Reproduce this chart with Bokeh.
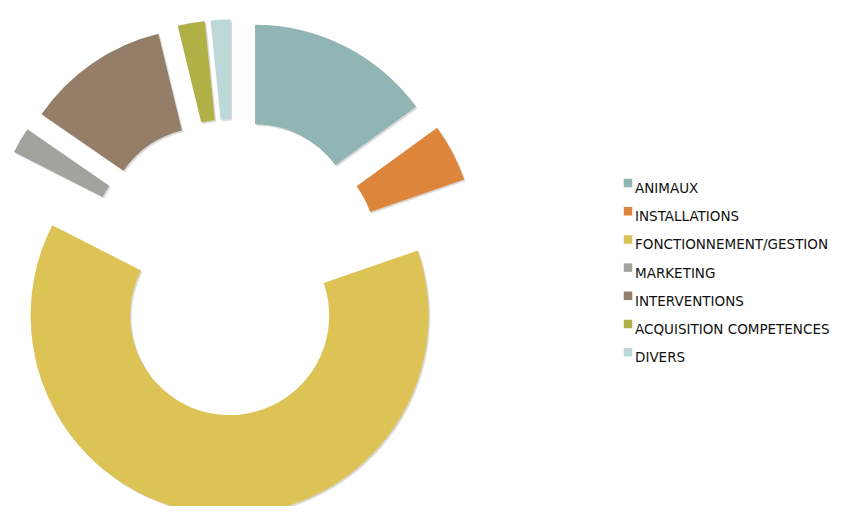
import numpy as np
from bokeh.plotting import figure
from bokeh.models import Range1d, ColumnDataSource
from bokeh.core.properties import value
from bokeh.embed import file_html
from bokeh.resources import INLINE

categories = ["ANIMAUX", "INSTALLATIONS", "FONCTIONNEMENT/GESTION", "MARKETING",
              "INTERVENTIONS", "ACQUISITION COMPETENCES", "DIVERS"]
values = [15.0, 4.7, 62.8, 2.1, 11.6, 2.2, 1.6]
colors = ["#91B4B4", "#DE853C", "#DDC356", "#A2A39D", "#947E67", "#B0B046", "#BCD8D9"]

W, H = 835, 506
# data units = screen pixels (y measured upward from the window bottom)
cx, cy = 232.5, 514 - 266.6
outer_r, inner_r = 199, 99.5
explode = 48.6

vals = np.array(values, dtype=float)
frac = vals / vals.sum()
ends = np.cumsum(frac) * 2 * np.pi
starts = ends - frac * 2 * np.pi
mids = (starts + ends) / 2
# clockwise from 12 o'clock
xs = cx + explode * np.sin(mids)
ys = cy + explode * np.cos(mids)
start_ang = np.pi / 2 - starts
end_ang = np.pi / 2 - ends

src = ColumnDataSource(dict(x=xs, y=ys, sx=xs + 1.5, sy=ys - 1.5,
                            start=start_ang, end=end_ang, color=colors))

p = figure(width=W, height=H, output_backend="svg", toolbar_location=None,
           x_range=Range1d(0, W), y_range=Range1d(514 - H, 514),
           min_border=0, outline_line_color=None)
p.axis.visible = False
p.grid.visible = False
p.background_fill_color = "white"

# soft shadow
p.annular_wedge(x="sx", y="sy", inner_radius=inner_r, outer_radius=outer_r,
                start_angle="start", end_angle="end", direction="clock",
                source=src, fill_color="#555555", fill_alpha=0.22, line_color=None)
p.annular_wedge(x="x", y="y", inner_radius=inner_r, outer_radius=outer_r,
                start_angle="start", end_angle="end", direction="clock",
                source=src, fill_color="color", line_color=None)

# legend
n = len(categories)
ly_top = 514 - 182.5
step = 28.2
leg_y = [ly_top - i * step for i in range(n)]
p.rect(x=[627.5] * n, y=leg_y, width=8.5, height=8.5, fill_color=colors, line_color=None)
p.text(x=[634.5] * n, y=[v - 5 for v in leg_y], text=categories,
       text_font=value("DejaVu Sans"), text_font_size="13.5px",
       text_color="#111111", text_baseline="alphabetic", text_align="left")

open("out.html", "w").write(file_html(p, INLINE))
